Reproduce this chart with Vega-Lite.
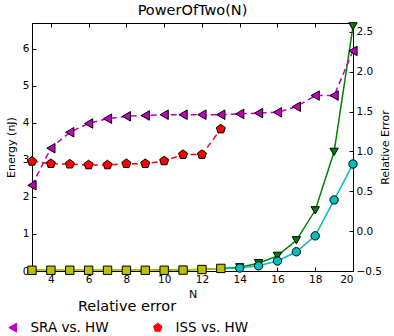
{
  "$schema": "https://vega.github.io/schema/vega-lite/v6.json",
  "width": 321,
  "height": 248,
  "autosize": {"type": "none"},
  "padding": {"left": 32, "top": 23, "right": 41, "bottom": 65},
  "background": "white",
  "title": {"text": "PowerOfTwo(N)", "fontSize": 14.5, "fontWeight": "normal", "font": "DejaVu Sans", "offset": 2, "color": "black"},
  "config": {
    "font": "DejaVu Sans",
    "view": {"stroke": "black", "strokeWidth": 1},
    "axis": {"labelFont": "DejaVu Sans", "titleFont": "DejaVu Sans", "labelFontSize": 10.5, "titleFontSize": 11, "titleFontWeight": "normal", "labelColor": "black", "titleColor": "black", "domainColor": "black", "tickColor": "black", "grid": false, "tickSize": -4, "labelPadding": 7},
    "legend": {"labelFont": "DejaVu Sans", "titleFont": "DejaVu Sans", "labelFontSize": 13.5, "titleFontSize": 14.5, "titleFontWeight": "normal", "labelColor": "black", "titleColor": "black"}
  },
  "datasets": {
    "energy": [
      {"N": 3, "series": "SRA", "energy": 200000},
      {"N": 4, "series": "SRA", "energy": 200000},
      {"N": 5, "series": "SRA", "energy": 200000},
      {"N": 6, "series": "SRA", "energy": 200000},
      {"N": 7, "series": "SRA", "energy": 200000},
      {"N": 8, "series": "SRA", "energy": 200000},
      {"N": 9, "series": "SRA", "energy": 200000},
      {"N": 10, "series": "SRA", "energy": 250000},
      {"N": 11, "series": "SRA", "energy": 300000},
      {"N": 12, "series": "SRA", "energy": 450000},
      {"N": 13, "series": "SRA", "energy": 700000},
      {"N": 14, "series": "SRA", "energy": 1000000},
      {"N": 15, "series": "SRA", "energy": 2100000},
      {"N": 16, "series": "SRA", "energy": 4100000},
      {"N": 17, "series": "SRA", "energy": 8300000},
      {"N": 18, "series": "SRA", "energy": 16400000},
      {"N": 19, "series": "SRA", "energy": 32200000},
      {"N": 20, "series": "SRA", "energy": 66100000},
      {"N": 13, "series": "ISS", "energy": 600000},
      {"N": 14, "series": "ISS", "energy": 800000},
      {"N": 15, "series": "ISS", "energy": 1400000},
      {"N": 16, "series": "ISS", "energy": 2700000},
      {"N": 17, "series": "ISS", "energy": 5200000},
      {"N": 18, "series": "ISS", "energy": 9500000},
      {"N": 19, "series": "ISS", "energy": 19200000},
      {"N": 20, "series": "ISS", "energy": 28900000},
      {"N": 3, "series": "HW", "energy": 200000},
      {"N": 4, "series": "HW", "energy": 200000},
      {"N": 5, "series": "HW", "energy": 200000},
      {"N": 6, "series": "HW", "energy": 200000},
      {"N": 7, "series": "HW", "energy": 200000},
      {"N": 8, "series": "HW", "energy": 200000},
      {"N": 9, "series": "HW", "energy": 200000},
      {"N": 10, "series": "HW", "energy": 200000},
      {"N": 11, "series": "HW", "energy": 250000},
      {"N": 12, "series": "HW", "energy": 400000},
      {"N": 13, "series": "HW", "energy": 700000}
    ],
    "error": [
      {"N": 3, "series": "SRA vs. HW", "err": 0.575},
      {"N": 4, "series": "SRA vs. HW", "err": 1.04},
      {"N": 5, "series": "SRA vs. HW", "err": 1.24},
      {"N": 6, "series": "SRA vs. HW", "err": 1.35},
      {"N": 7, "series": "SRA vs. HW", "err": 1.41},
      {"N": 8, "series": "SRA vs. HW", "err": 1.44},
      {"N": 9, "series": "SRA vs. HW", "err": 1.45},
      {"N": 10, "series": "SRA vs. HW", "err": 1.46},
      {"N": 11, "series": "SRA vs. HW", "err": 1.46},
      {"N": 12, "series": "SRA vs. HW", "err": 1.46},
      {"N": 13, "series": "SRA vs. HW", "err": 1.46},
      {"N": 14, "series": "SRA vs. HW", "err": 1.47},
      {"N": 15, "series": "SRA vs. HW", "err": 1.48},
      {"N": 16, "series": "SRA vs. HW", "err": 1.49},
      {"N": 17, "series": "SRA vs. HW", "err": 1.56},
      {"N": 18, "series": "SRA vs. HW", "err": 1.70},
      {"N": 19, "series": "SRA vs. HW", "err": 1.70},
      {"N": 20, "series": "SRA vs. HW", "err": 2.26},
      {"N": 3, "series": "ISS vs. HW", "err": 0.875},
      {"N": 4, "series": "ISS vs. HW", "err": 0.846},
      {"N": 5, "series": "ISS vs. HW", "err": 0.84},
      {"N": 6, "series": "ISS vs. HW", "err": 0.83},
      {"N": 7, "series": "ISS vs. HW", "err": 0.83},
      {"N": 8, "series": "ISS vs. HW", "err": 0.846},
      {"N": 9, "series": "ISS vs. HW", "err": 0.846},
      {"N": 10, "series": "ISS vs. HW", "err": 0.88},
      {"N": 11, "series": "ISS vs. HW", "err": 0.96},
      {"N": 12, "series": "ISS vs. HW", "err": 0.96},
      {"N": 13, "series": "ISS vs. HW", "err": 1.28}
    ]
  },
  "layer": [
    {
      "data": {"name": "energy"},
      "encoding": {
        "x": {"field": "N", "type": "quantitative", "scale": {"domain": [3, 20], "nice": false, "zero": false},
              "axis": {"title": "N", "values": [4, 6, 8, 10, 12, 14, 16, 18, 20], "titlePadding": -2}},
        "y": {"field": "energy", "type": "quantitative", "scale": {"domain": [0, 67000000], "nice": false},
              "axis": {"title": "Energy (nJ)", "orient": "left", "values": [0, 10000000, 20000000, 30000000, 40000000, 50000000, 60000000], "labelExpr": "format(datum.value/1e7, 'd')", "titlePadding": 6}}
      },
      "layer": [
        {
          "mark": {"type": "line", "strokeWidth": 1.5},
          "encoding": {
            "color": {"field": "series", "type": "nominal", "scale": {"domain": ["SRA", "ISS", "HW"], "range": ["#008000", "#00bfbf", "#bfbf00"]}, "legend": null},
            "order": {"field": "N"}
          }
        },
        {
          "transform": [{"filter": "datum.series == 'HW' || datum.N >= 14"}],
          "mark": {"type": "point", "filled": true, "stroke": "black", "strokeWidth": 1, "size": 70, "opacity": 1},
          "encoding": {
            "fill": {"field": "series", "type": "nominal", "scale": {"domain": ["SRA", "ISS", "HW"], "range": ["#008000", "#00bfbf", "#bfbf00"]}, "legend": null},
            "shape": {"field": "series", "type": "nominal", "scale": {"domain": ["SRA", "ISS", "HW"], "range": ["triangle-down", "circle", "square"]}, "legend": null}
          }
        },
        {
          "data": {"values": [{"label": "1e7"}]},
          "mark": {"type": "text", "align": "left", "baseline": "bottom", "dy": -3, "fontSize": 11, "font": "DejaVu Sans", "color": "black"},
          "encoding": {
            "x": {"datum": 3},
            "y": {"datum": 67000000},
            "text": {"field": "label"}
          }
        },
        {
          "mark": {"type": "rule", "opacity": 0},
          "encoding": {
            "x": {"field": "N", "type": "quantitative", "axis": {"orient": "top", "labels": false, "title": null, "values": [4, 6, 8, 10, 12, 14, 16, 18, 20], "domain": false}}
          }
        }
      ]
    },
    {
      "data": {"name": "error"},
      "encoding": {
        "x": {"field": "N", "type": "quantitative"},
        "y": {"field": "err", "type": "quantitative", "scale": {"domain": [-0.5, 2.61], "nice": false, "zero": false},
              "axis": {"title": "Relative Error", "orient": "right", "values": [-0.5, 0, 0.5, 1, 1.5, 2, 2.5], "format": ".1f", "titleAngle": 270, "titleX": 32, "titleY": 124, "titleBaseline": "middle", "titleAlign": "center"}},
        "color": {"field": "series", "type": "nominal", "title": "Relative error", "scale": {"domain": ["SRA vs. HW", "ISS vs. HW"], "range": ["#bf00bf", "#ff0000"]},
                  "legend": {"orient": "none", "legendX": -26, "legendY": 277, "direction": "horizontal", "columns": 2, "titleAnchor": "middle", "symbolSize": 80, "symbolStrokeColor": "black", "symbolStrokeWidth": 1, "columnPadding": 42, "labelOffset": 11, "titlePadding": 6}}
      },
      "layer": [
        {
          "mark": {"type": "line", "strokeWidth": 1.5, "strokeDash": [6, 4]},
          "encoding": {"order": {"field": "N"}}
        },
        {
          "mark": {"type": "point", "filled": true, "stroke": "black", "strokeWidth": 1, "size": 90, "opacity": 1},
          "encoding": {
            "shape": {"field": "series", "type": "nominal", "title": "Relative error",
                      "scale": {"domain": ["SRA vs. HW", "ISS vs. HW"], "range": ["triangle-left", "M0,-1L0.951,-0.309L0.588,0.809L-0.588,0.809L-0.951,-0.309Z"]}}
          }
        }
      ]
    }
  ],
  "resolve": {"scale": {"y": "independent", "color": "independent", "fill": "independent", "shape": "independent"}, "axis": {"x": "independent"}}
}
